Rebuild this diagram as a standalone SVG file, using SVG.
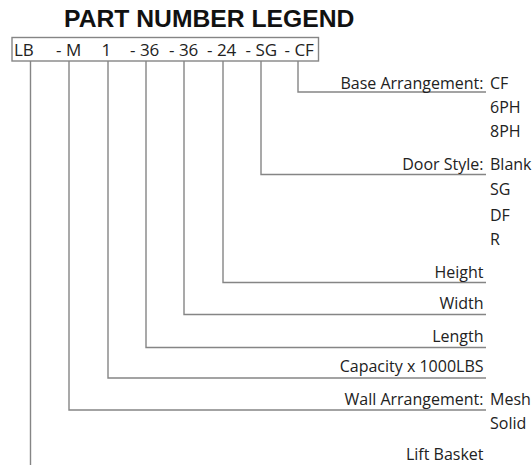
<svg xmlns="http://www.w3.org/2000/svg" width="532" height="465" viewBox="0 0 532 465">
<style>
.t{font-family:"Open Sans","Liberation Sans",sans-serif;font-size:16px;fill:#222}
.b{font-size:17px}
.r{text-anchor:end}
.title{font-family:"Liberation Sans",Arial,sans-serif;font-weight:bold;font-size:24.7px;fill:#111}
.c{fill:none;stroke:#858585;stroke-width:1.4}
</style>
<rect width="532" height="465" fill="#fff"/>
<g id="title"><text class="title" x="64" y="26.5">PART NUMBER LEGEND</text></g>
<g id="part-number">
<rect x="12" y="37.5" width="306.5" height="23.5" fill="#fff" stroke="#858585" stroke-width="1.4"/>
<text class="t b" y="56"><tspan x="14">LB</tspan><tspan x="56">- M</tspan><tspan x="101.5">1</tspan><tspan x="130">- 36</tspan><tspan x="169">- 36</tspan><tspan x="207">- 24</tspan><tspan x="245.5">- SG</tspan><tspan x="284.5">- CF</tspan></text>
</g>
<g id="connectors">
<polyline class="c" points="298,61 298,92 486,92"/>
<polyline class="c" points="261,61 261,174.5 486,174.5"/>
<polyline class="c" points="223,61 223,282.5 486,282.5"/>
<polyline class="c" points="184,61 184,314.5 486,314.5"/>
<polyline class="c" points="146,61 146,347.5 486,347.5"/>
<polyline class="c" points="108,61 108,378 486,378"/>
<polyline class="c" points="69,61 69,410 486,410"/>
<polyline class="c" points="30.5,61 30.5,465"/>
</g>
<g id="base-arrangement">
<text class="t r" x="483.5" y="89">Base Arrangement:</text>
<text class="t" x="490" y="89">CF</text>
<text class="t" x="490" y="113">6PH</text>
<text class="t" x="490" y="137">8PH</text>
</g>
<g id="door-style">
<text class="t r" x="483.5" y="169.5">Door Style:</text>
<text class="t" x="490" y="169.5">Blank</text>
<text class="t" x="490" y="195">SG</text>
<text class="t" x="490" y="220.5">DF</text>
<text class="t" x="490" y="244.5">R</text>
</g>
<g id="height"><text class="t r" x="483.5" y="277.5">Height</text></g>
<g id="width"><text class="t r" x="483.5" y="309">Width</text></g>
<g id="length"><text class="t r" x="483.5" y="342">Length</text></g>
<g id="capacity"><text class="t r" x="483.5" y="372">Capacity x 1000LBS</text></g>
<g id="wall-arrangement">
<text class="t r" x="483.5" y="404.5">Wall Arrangement:</text>
<text class="t" x="490" y="404.5">Mesh</text>
<text class="t" x="490" y="429">Solid</text>
</g>
<g id="lift-basket"><text class="t r" x="483.5" y="460">Lift Basket</text></g>
</svg>
